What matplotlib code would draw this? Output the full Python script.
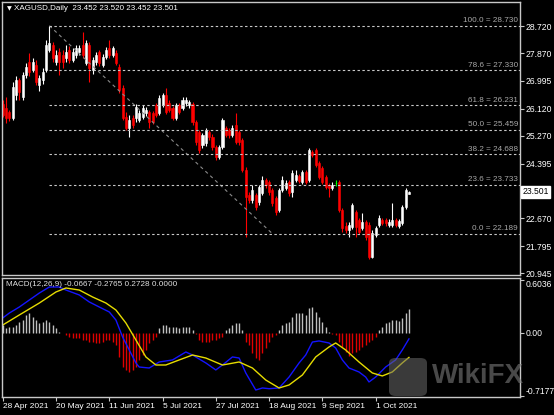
import matplotlib.pyplot as plt
import numpy as np
from matplotlib.patches import FancyBboxPatch, Circle

plt.rcParams['font.family'] = ['Liberation Sans', 'DejaVu Sans']

# XAGUSD daily bars, 28 Apr 2021 .. 15 Oct 2021
opens = [26.27, 26.14, 26.02, 25.83, 26.55, 27.02, 26.49, 27.18, 27.59, 27.34,
         27.49, 26.86, 27.02, 27.34, 27.97, 28.12, 27.59, 27.90, 27.81, 27.71,
         27.97, 27.65, 27.81, 27.90, 28.12, 27.56, 28.12, 27.34, 27.59, 27.90,
         27.49, 27.75, 28.03, 27.81, 27.87, 27.43, 26.77, 25.86, 25.51, 25.83,
         25.83, 25.76, 25.86, 25.98, 26.02, 25.98, 26.24, 25.98, 26.24, 26.55,
         26.30, 26.14, 25.83, 26.24, 26.14, 26.30, 26.24, 26.27, 25.70, 25.39,
         24.98, 25.04, 25.39, 25.23, 24.91, 24.60, 24.91, 25.51, 25.45, 25.29,
         25.61, 25.39, 25.13, 24.19, 23.41, 23.25, 23.41, 23.19, 23.47, 23.88,
         23.81, 23.56, 23.31, 22.93, 23.56, 23.63, 23.81, 23.50, 23.88, 24.00,
         23.81, 24.13, 23.88, 24.76, 24.82, 24.41, 24.25, 23.97, 23.72, 23.63,
         23.77, 23.81, 22.93, 22.43, 22.30, 22.40, 22.87, 22.62, 22.37, 22.56,
         22.46, 21.46, 22.15, 22.46, 22.62, 22.62, 22.46, 22.46, 22.62, 22.43,
         22.53, 23.03, 23.452]
highs = [26.39, 26.49, 26.08, 26.96, 27.15, 27.08, 27.27, 27.56, 27.87, 27.71,
         27.65, 27.18, 27.40, 28.28, 28.73, 28.22, 27.97, 28.03, 27.97, 28.12,
         28.09, 28.03, 28.12, 28.12, 28.53, 28.28, 28.22, 27.75, 27.90, 27.97,
         27.84, 28.06, 28.28, 28.09, 27.97, 27.52, 26.86, 26.02, 25.92, 25.92,
         26.27, 26.08, 26.24, 26.17, 26.08, 26.05, 26.30, 26.55, 26.61, 26.77,
         26.39, 26.20, 26.30, 26.30, 26.49, 26.49, 26.39, 26.33, 25.76, 25.45,
         25.35, 25.51, 25.45, 25.32, 24.98, 24.98, 25.83, 25.58, 25.51, 25.61,
         25.98, 25.45, 25.20, 24.29, 23.50, 23.72, 23.47, 23.72, 24.00, 23.94,
         23.88, 23.63, 23.37, 23.63, 24.00, 23.88, 23.88, 24.19, 24.19, 24.07,
         24.19, 24.19, 24.88, 24.82, 24.88, 24.48, 24.32, 24.03, 23.78, 23.81,
         23.88, 23.88, 23.00, 22.56, 22.56, 23.15, 22.93, 22.68, 22.84, 22.62,
         22.56, 22.30, 22.43, 22.78, 22.68, 22.68, 22.65, 23.15, 22.68, 22.65,
         23.09, 23.63, 23.520]
lows = [25.86, 25.67, 25.73, 25.76, 26.39, 26.39, 26.39, 27.08, 27.15, 27.27,
        26.86, 26.68, 26.90, 27.27, 27.90, 27.59, 27.49, 27.18, 27.40, 27.59,
        27.56, 27.59, 27.71, 27.81, 27.71, 27.49, 26.96, 27.21, 27.49, 27.46,
        27.43, 27.68, 27.71, 27.75, 27.49, 26.61, 25.76, 25.45, 25.23, 25.51,
        25.70, 25.70, 25.80, 25.89, 25.51, 25.64, 25.86, 25.92, 26.17, 25.95,
        26.02, 25.76, 25.76, 25.95, 26.08, 26.20, 26.14, 25.61, 24.98, 24.73,
        24.88, 24.95, 25.13, 24.82, 24.51, 24.54, 24.85, 25.23, 25.20, 25.23,
        25.01, 24.98, 24.13, 22.10, 23.15, 23.15, 22.93, 23.09, 23.41, 23.63,
        23.41, 23.06, 22.78, 22.87, 23.50, 23.56, 23.37, 23.34, 23.81, 23.78,
        23.75, 23.75, 23.81, 24.60, 24.29, 23.91, 23.75, 23.59, 23.34, 23.56,
        23.69, 22.87, 22.24, 22.21, 22.08, 22.34, 22.08, 22.18, 22.30, 21.99,
        21.39, 21.42, 22.08, 22.40, 22.46, 22.43, 22.40, 22.40, 22.40, 22.37,
        22.46, 22.96, 23.452]
closes = [25.92, 25.83, 25.83, 26.80, 27.02, 26.64, 27.18, 27.43, 27.27, 27.59,
          26.96, 27.08, 27.27, 28.12, 28.19, 27.71, 27.81, 27.59, 27.59, 27.90,
          27.65, 27.90, 28.03, 28.03, 27.81, 28.19, 27.40, 27.65, 27.81, 27.56,
          27.75, 27.97, 27.81, 28.03, 27.56, 26.71, 25.83, 25.51, 25.76, 25.61,
          26.17, 25.98, 26.14, 26.08, 25.70, 25.70, 25.92, 26.46, 26.55, 26.02,
          26.08, 25.83, 26.24, 26.02, 26.39, 26.39, 26.33, 25.70, 25.07, 24.82,
          25.29, 25.45, 25.23, 24.91, 24.60, 24.91, 25.76, 25.29, 25.29, 25.51,
          25.07, 25.07, 24.19, 23.34, 23.25, 23.56, 23.03, 23.66, 23.88, 23.72,
          23.50, 23.15, 22.87, 23.56, 23.88, 23.78, 23.47, 24.10, 24.03, 23.85,
          24.13, 23.81, 24.82, 24.66, 24.35, 23.97, 23.81, 23.66, 23.63, 23.72,
          23.77, 22.93, 22.37, 22.30, 22.46, 23.09, 22.40, 22.24, 22.56, 22.08,
          21.46, 22.21, 22.37, 22.68, 22.53, 22.53, 22.56, 22.62, 22.46, 22.59,
          23.03, 23.56, 23.501]

date_bars = [0, 16, 32, 48, 64, 80, 96, 112]
date_labels = ['28 Apr 2021', '20 May 2021', '11 Jun 2021', '5 Jul 2021',
               '27 Jul 2021', '18 Aug 2021', '9 Sep 2021', '1 Oct 2021']
price_ticks = [28.720, 27.870, 26.995, 26.120, 25.270, 24.395, 22.670, 21.795, 20.945]

fib_levels = [100.0, 78.6, 61.8, 50.0, 38.2, 23.6, 0.0]
fib_prices = [28.730, 27.330, 26.231, 25.459, 24.688, 23.733, 22.189]
fib_start_bar = 14
fib_end_bar = 81

# MACD(12,26,9) panel
macd_hist = [0.090, 0.053, 0.071, 0.071, 0.090, 0.128, 0.147, 0.204, 0.222, 0.184,
             0.147, 0.110, 0.128, 0.147, 0.128, 0.090, 0.053, 0.015, -0.005, -0.020,
             -0.042, -0.060, -0.060, -0.060, -0.079, -0.079, -0.098, -0.098, -0.117, -0.117,
             -0.098, -0.079, -0.079, -0.098, -0.136, -0.268, -0.381, -0.418, -0.437, -0.418,
             -0.381, -0.305, -0.249, -0.192, -0.117, -0.079, -0.042, 0.053, 0.090, 0.090,
             0.071, 0.071, 0.071, 0.053, 0.071, 0.071, 0.071, 0.034, -0.010, -0.079,
             -0.098, -0.098, -0.098, -0.079, -0.079, -0.060, -0.042, 0.034, 0.053, 0.090,
             0.110, 0.110, 0.030, -0.098, -0.136, -0.230, -0.287, -0.305, -0.230, -0.173,
             -0.098, -0.042, -0.023, 0.034, 0.090, 0.110, 0.128, 0.184, 0.222, 0.230,
             0.222, 0.204, 0.279, 0.291, 0.241, 0.184, 0.128, 0.071, 0.015, -0.010,
             -0.023, -0.098, -0.155, -0.212, -0.260, -0.230, -0.212, -0.192, -0.155, -0.136,
             -0.098, -0.079, -0.042, 0.034, 0.071, 0.110, 0.128, 0.147, 0.147, 0.139,
             0.166, 0.230, 0.2728]
main_bars = [0, 2, 5, 8, 11, 14, 17, 19, 23, 26, 29, 32, 34, 36, 38, 40, 41, 44, 47, 51,
             55, 57, 61, 64, 66, 69, 71, 73, 76, 78, 80, 83, 86, 89, 91, 93, 95, 98, 100, 102,
             104, 107, 109, 110, 112, 115, 118, 120, 122]
main_vals = [0.170, 0.226, 0.294, 0.373, 0.452, 0.520, 0.520, 0.486, 0.430, 0.351,
             0.294, 0.238, 0.147, -0.045, -0.192, -0.339, -0.385, -0.396, -0.328, -0.305,
             -0.215, -0.249, -0.339, -0.418, -0.362, -0.271, -0.283, -0.452, -0.645, -0.622,
             -0.630, -0.622, -0.498, -0.339, -0.249, -0.102, -0.090, -0.113, -0.170, -0.305,
             -0.396, -0.441, -0.498, -0.554, -0.498, -0.385, -0.305, -0.192, -0.0667]
signal_bars = [0, 5, 11, 16, 19, 23, 27, 31, 34, 37, 40, 43, 46, 49, 53, 57, 61, 66, 71, 75,
               79, 83, 86, 90, 94, 98, 100, 103, 107, 111, 114, 117, 120, 122]
signal_vals = [0.090, 0.204, 0.339, 0.464, 0.509, 0.486, 0.407, 0.339, 0.260, 0.113,
               -0.079, -0.271, -0.362, -0.362, -0.305, -0.249, -0.283, -0.362, -0.328, -0.396,
               -0.532, -0.622, -0.588, -0.475, -0.271, -0.158, -0.113, -0.192, -0.328, -0.452,
               -0.486, -0.441, -0.339, -0.2765]

W, H = 554, 415
fig = plt.figure(figsize=(W / 100, H / 100), dpi=100, facecolor='black')
ax = fig.add_axes([2 / W, 140 / H, 518 / W, 273 / H], facecolor='black')
ax2 = fig.add_axes([2 / W, 18 / H, 518 / W, 119 / H], facecolor='black')

xlim = (-0.21, 155.35)
x = np.arange(len(closes))
o = np.array(opens)
c = np.array(closes)
cols = ['#FFFFFF' if cc > oo else ('#00FF00' if cc == oo else '#FF0000')
        for oo, cc in zip(opens, closes)]

# candles
ax.vlines(x, lows, highs, colors=cols, linewidth=0.8)
body_h = np.maximum(np.abs(c - o), 0.012)
ax.bar(x, body_h, bottom=np.minimum(o, c), width=0.62, color=cols,
       edgecolor=cols, linewidth=0.4)

# fibonacci retracement
ax.plot([fib_start_bar, fib_end_bar], [fib_prices[0], fib_prices[-1]],
        color='#8A8A8A', linewidth=0.8, linestyle=(0, (3, 3)))
for lv, pr in zip(fib_levels, fib_prices):
    ax.hlines(pr, fib_start_bar, xlim[1], colors='#C8C8C8', linewidth=0.8,
              linestyles=(0, (2.2, 2.2)))
    ax.text(xlim[1] - 0.6, pr + 0.04, f'{lv:.1f} = {pr:.3f}', color='#A8A8A8',
            fontsize=5.9, ha='right', va='bottom')

ax.set_xlim(*xlim)
ax.set_ylim(20.89, 29.475)
ax.set_xticks([])
ax.yaxis.tick_right()
ax.set_yticks(price_ticks)
ax.set_yticklabels([f'{p:.3f}' for p in price_ticks])
ax.tick_params(axis='y', colors='#C8C8C8', labelcolor='white', labelsize=6.2,
               length=3, width=0.8, pad=1)

# current price marker
ax.text(1.004, closes[-1], f'{closes[-1]:.3f}', transform=ax.get_yaxis_transform(),
        fontsize=6.2, color='black', va='center', ha='left',
        bbox=dict(boxstyle='square,pad=0.15', fc='white', ec='white'))

ax.text(12 / 518, 1 - 7 / 273, 'XAGUSD,Daily  23.452 23.520 23.452 23.501',
        transform=ax.transAxes, color='white', fontsize=5.8, va='center', ha='left')
ax.text(5 / 518, 1 - 7 / 273, '▼', transform=ax.transAxes, color='white',
        fontsize=4.5, va='center', ha='left', family='DejaVu Sans')

# MACD
hist_cols = ['#C0C0C0' if v >= 0 else '#E00000' for v in macd_hist]
ax2.vlines(x, 0, macd_hist, colors=hist_cols, linewidth=1.0)
ax2.plot(main_bars, main_vals, color='#1414FF', linewidth=1.0)
ax2.plot(signal_bars, signal_vals, color='#E6DC00', linewidth=1.0)
ax2.set_xlim(*xlim)
ax2.set_ylim(-0.724, 0.622)
ax2.yaxis.tick_right()
ax2.set_yticks([0.6036, 0.0, -0.7177])
ax2.set_yticklabels(['0.6036', '0.00', '-0.7177'])
ax2.tick_params(axis='y', colors='#C8C8C8', labelcolor='white', labelsize=6.2,
                length=3, width=0.8, pad=1)
tl = ax2.get_yticklabels()
tl[0].set_va('top')
tl[2].set_va('bottom')
ax2.set_xticks(date_bars)
ax2.set_xticklabels(date_labels, ha='left')
ax2.tick_params(axis='x', colors='#C8C8C8', labelcolor='white', labelsize=6,
                length=3, width=0.8, pad=1.5)
ax2.text(4 / 518, 1 - 7 / 119, 'MACD(12,26,9) -0.0667 -0.2765 0.2728 0.0000',
         transform=ax2.transAxes, color='#E0E0E0', fontsize=5.9, va='center', ha='left')

for a in (ax, ax2):
    for s in a.spines.values():
        s.set_color('#C8C8C8')
        s.set_linewidth(1.0)

# watermark
fig.patches.append(FancyBboxPatch((389 / W, 1 - 396 / H), 38 / W, 38 / H,
                                  boxstyle='round,pad=0,rounding_size=0.012',
                                  transform=fig.transFigure, fc='#6A6A6A', ec='none',
                                  alpha=0.55))
fig.patches.append(Circle((408 / W, 1 - 377 / H), 11 / W, transform=fig.transFigure,
                          fc='#3A3A3A', ec='none', alpha=0.6))
fig.text(432 / W, 1 - 376 / H, 'WikiFX', fontsize=20, fontweight='bold',
         color='#7A7A7A', alpha=0.6, va='center', ha='left')

fig.savefig('out.png', dpi=100, facecolor='black')
